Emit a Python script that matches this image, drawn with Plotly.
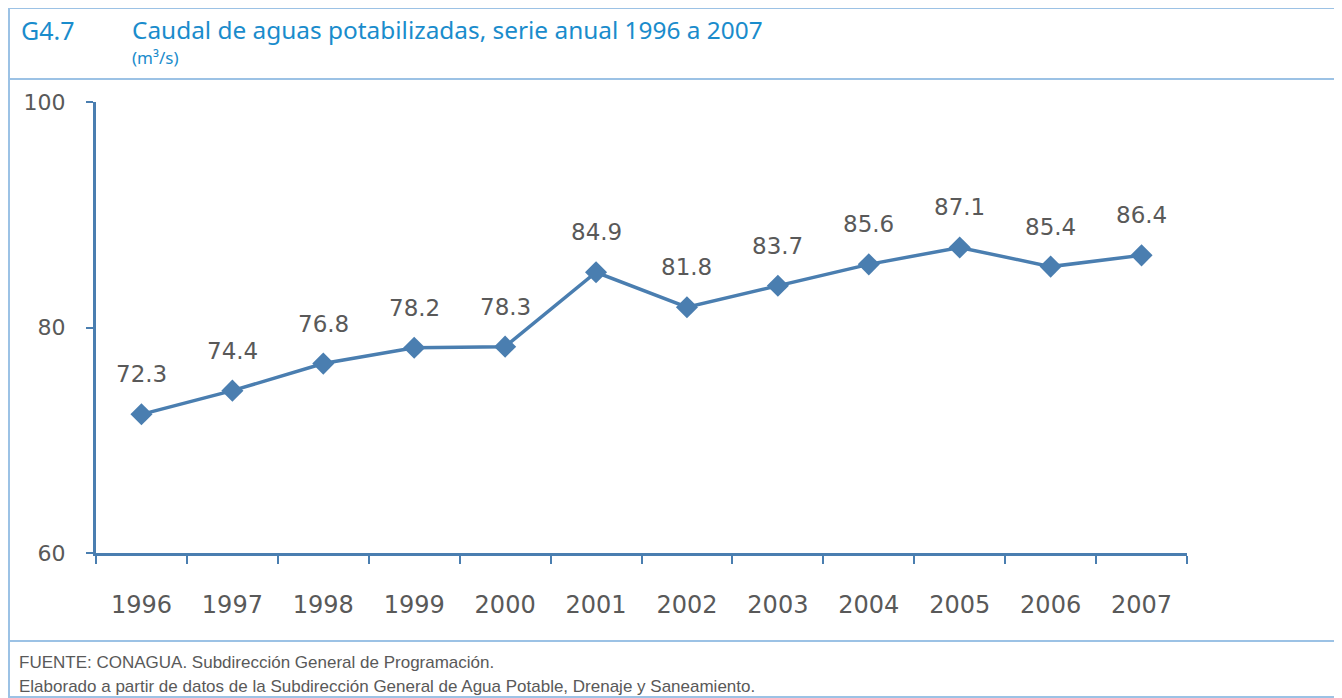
import plotly.graph_objects as go

# data
years = ["1996", "1997", "1998", "1999", "2000", "2001",
         "2002", "2003", "2004", "2005", "2006", "2007"]
caudal = [72.3, 74.4, 76.8, 78.2, 78.3, 84.9, 81.8, 83.7, 85.6, 87.1, 85.4, 86.4]
y_ticks = [60, 80, 100]

line_color = "#4a7eb0"
frame_color = "#9cc2e5"
text_gray = "#595959"
title_blue = "#1a8ccc"

# the page body has an 8px margin, so work in screen pixels and shift
OFF = 8
W, H = 1342 - OFF, 698 - OFF
L, R, T, B = 96 - OFF, 1187 - OFF, 102 - OFF, 553 - OFF


def px(x):
    return (x - OFF - L) / (R - L)


def py(y):
    return (B - (y - OFF)) / (B - T)


fig = go.Figure(go.Scatter(
    x=years, y=caudal,
    mode="lines+markers",
    line=dict(color=line_color, width=3.5),
    marker=dict(symbol="diamond", size=17, color=line_color),
    hoverinfo="x+y",
))

# value labels above each point (category index on the x axis)
for i, v in enumerate(caudal):
    fig.add_annotation(x=i, y=v, text=f"{v:.1f}", showarrow=False,
                       yshift=40, font=dict(family="DejaVu Sans", size=23, color=text_gray))

# frame, header and footer separators
fig.add_shape(type="rect", xref="paper", yref="paper",
              x0=px(9), x1=px(1340), y0=py(8), y1=py(697),
              line=dict(color=frame_color, width=2))
fig.add_shape(type="line", xref="paper", yref="paper",
              x0=px(9), x1=px(1340), y0=py(79), y1=py(79),
              line=dict(color=frame_color, width=2))
fig.add_shape(type="line", xref="paper", yref="paper",
              x0=px(9), x1=px(1340), y0=py(641), y1=py(641),
              line=dict(color=frame_color, width=2))

title_font = "Noto Sans"
fig.add_annotation(xref="paper", yref="paper", x=px(19), y=py(30), xanchor="left", yanchor="middle",
                   text="G4.7", showarrow=False, font=dict(family=title_font, size=25, color=title_blue))
fig.add_annotation(xref="paper", yref="paper", x=px(130), y=py(30), xanchor="left", yanchor="middle",
                   text="Caudal de aguas potabilizadas, serie anual 1996 a 2007", showarrow=False,
                   font=dict(family=title_font, size=24.4, color=title_blue))
fig.add_annotation(xref="paper", yref="paper", x=px(130), y=py(58), xanchor="left", yanchor="middle",
                   text="(m³/s)", showarrow=False, font=dict(family=title_font, size=17, color=title_blue))

foot_font = dict(family="Liberation Sans Narrow, Liberation Sans", size=17, color=text_gray)
fig.add_annotation(xref="paper", yref="paper", x=px(17), y=py(662), xanchor="left", yanchor="middle",
                   text="FUENTE: CONAGUA. Subdirección General de Programación.", showarrow=False,
                   font=foot_font)
fig.add_annotation(xref="paper", yref="paper", x=px(17), y=py(686), xanchor="left", yanchor="middle",
                   text="Elaborado a partir de datos de la Subdirección General de Agua Potable, Drenaje y Saneamiento.",
                   showarrow=False, font=foot_font)

fig.update_layout(
    width=W, height=H,
    margin=dict(l=L, r=W - R, t=T, b=H - B, pad=0),
    paper_bgcolor="white", plot_bgcolor="white",
    showlegend=False,
    xaxis=dict(
        type="category", range=[-0.5, len(years) - 0.5],
        showgrid=False, zeroline=False,
        showline=True, linecolor=line_color, linewidth=3,
        ticks="outside", tickson="boundaries", ticklen=8, tickwidth=2, tickcolor=line_color,
        tickfont=dict(family="DejaVu Sans", size=24, color=text_gray),
        tickangle=0, ticklabelstandoff=28,
    ),
    yaxis=dict(
        range=[60, 100], tickvals=y_ticks, showgrid=False, zeroline=False,
        showline=True, linecolor=line_color, linewidth=3,
        ticks="outside", ticklen=7, tickwidth=2, tickcolor=line_color,
        tickfont=dict(family="DejaVu Sans", size=22, color=text_gray),
        ticklabelstandoff=16,
    ),
)

fig.write_html("out.html")
